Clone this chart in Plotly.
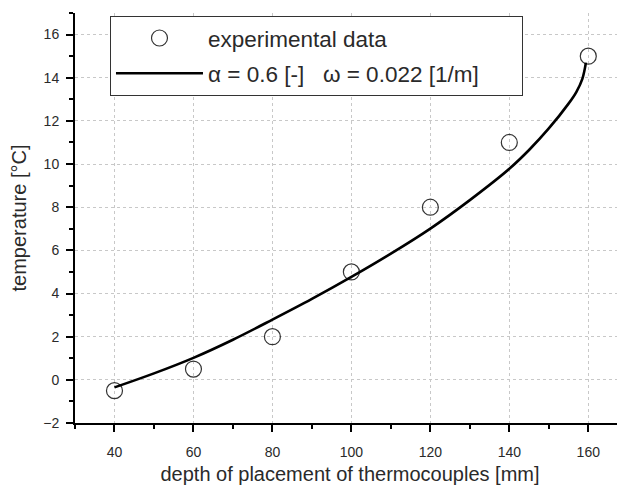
import plotly.graph_objects as go

# experimental data
depth_mm = [40, 60, 80, 100, 120, 140, 160]
temp_c = [-0.5, 0.5, 2.0, 5.0, 8.0, 11.0, 15.0]

# model curve (alpha = 0.6, omega = 0.022)
fit_x = [40, 50, 60, 70, 80, 90, 100, 110, 120, 130, 140, 145, 150, 155, 157, 158.5, 159.4]
fit_y = [-0.35, 0.30, 1.02, 1.86, 2.79, 3.75, 4.77, 5.85, 7.01, 8.33, 9.78, 10.65, 11.65, 12.8, 13.35, 13.95, 14.7]

x_ticks = [40, 60, 80, 100, 120, 140, 160]
y_ticks = [-2, 0, 2, 4, 6, 8, 10, 12, 14, 16]

FONT = "Arial, Liberation Sans, sans-serif"
TXT = "#2a2a2a"
NB = "\u00a0"

fig = go.Figure()
fig.add_trace(go.Scatter(
    x=depth_mm, y=temp_c, mode="markers", legendgroup="a",
    name="experimental data",
    marker=dict(symbol="circle-open", size=16, color="#333333", line=dict(width=1.2, color="#333333")),
))
fig.add_trace(go.Scatter(
    x=fit_x, y=fit_y, mode="lines", line_shape="spline", legendgroup="b",
    name="α = 0.6 [-]" + NB * 3 + "ω = 0.022 [1/m]" + NB * 6,
    line=dict(color="black", width=2.6),
))

xr = [30, 169.3]
yr = [-2, 17]
common = dict(showline=True, linecolor="black", linewidth=2, mirror=False, zeroline=False, automargin=False)

fig.update_layout(
    width=617, height=478,
    margin=dict(l=67, r=0, t=5, b=63),
    paper_bgcolor="white", plot_bgcolor="white",
    font=dict(family=FONT, color=TXT),
    showlegend=True,
    legend=dict(
        x=0.0636, y=0.993, xanchor="left", yanchor="top",
        bgcolor="white", bordercolor="#333333", borderwidth=1,
        font=dict(size=22.5, family=FONT, color=TXT),
        itemwidth=87, tracegroupgap=3,
    ),
    xaxis=dict(
        range=xr, tickvals=x_ticks, ticks="outside", ticklen=7, tickwidth=2, tickcolor="black",
        minor=dict(dtick=10, tick0=30, ticks="outside", ticklen=4, tickwidth=2, tickcolor="black", showgrid=False),
        showgrid=True, gridcolor="#c8c8c8", griddash="3px,3px", gridwidth=1,
        tickfont=dict(size=14, color=TXT), ticklabelstandoff=8,
        title=dict(text="depth of placement of thermocouples [mm]", font=dict(size=20, color=TXT), standoff=8),
        **common,
    ),
    yaxis=dict(
        range=yr, tickvals=y_ticks, ticks="outside", ticklen=7, tickwidth=2, tickcolor="black",
        minor=dict(dtick=1, tick0=-2, ticks="outside", ticklen=4, tickwidth=2, tickcolor="black", showgrid=False),
        showgrid=True, gridcolor="#c8c8c8", griddash="3px,3px", gridwidth=1,
        tickfont=dict(size=14, color=TXT), ticklabelstandoff=4,
        title=dict(text="temperature [°C]", font=dict(size=20, color=TXT), standoff=14),
        **common,
    ),
    xaxis2=dict(
        overlaying="x", side="top", matches="x", range=xr, tickvals=x_ticks, showticklabels=False,
        ticks="inside", ticklen=6, tickwidth=2, tickcolor="black",
        minor=dict(dtick=10, tick0=30, ticks="inside", ticklen=6, tickwidth=2, tickcolor="black"),
        showgrid=False, **common,
    ),
    yaxis2=dict(
        overlaying="y", side="right", matches="y", range=yr, tickvals=y_ticks, showticklabels=False,
        ticks="inside", ticklen=6, tickwidth=2, tickcolor="black",
        minor=dict(dtick=1, tick0=-2, ticks="inside", ticklen=3, tickwidth=2, tickcolor="black"),
        showgrid=False, **common,
    ),
)

fig.write_html("out.html")
